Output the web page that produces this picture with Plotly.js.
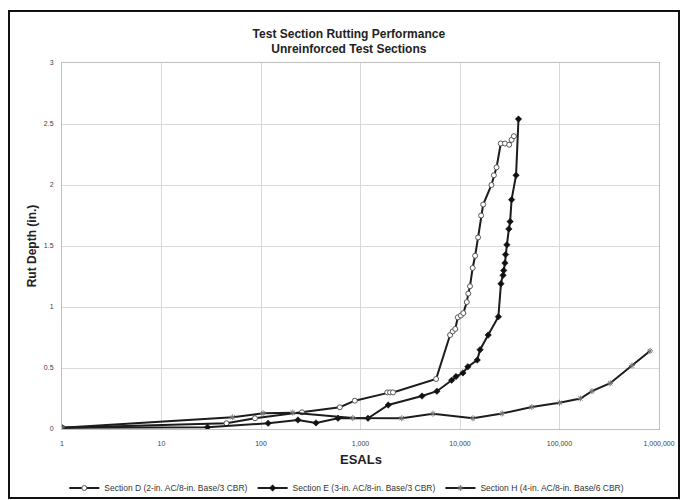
<!DOCTYPE html>
<html>
<head>
<meta charset="utf-8">
<script src="https://cdn.plot.ly/plotly-3.0.1.min.js"></script>
<style>
  html, body { margin: 0; padding: 0; background: #ffffff; }
  #wrap { position: relative; width: 680px; height: 500px; }
  #chart { position: absolute; left: 0; top: 0; width: 680px; height: 500px; }
  #frame { position: absolute; left: 8px; top: 10px; width: 668px; height: 485px;
           border: 2px solid #111; pointer-events: none; }
</style>
</head>
<body>
<div id="wrap">
  <div id="chart"></div>
  <div id="frame"></div>
</div>
<script>
// ---- Data ----
const seriesNames = [
  "Section D (2-in. AC/8-in. Base/3 CBR)",
  "Section E (3-in. AC/8-in. Base/3 CBR)",
  "Section H (4-in. AC/8-in. Base/6 CBR)"
];

const dESAL = [1, 45, 87, 258, 620, 877, 1860, 1980, 2120, 5750, 7950, 8450, 8960, 9510, 10200, 10800,
               11700, 12100, 12600, 13400, 14200, 15200, 16300, 17100, 20700, 21900, 23300, 25700,
               28300, 31200, 33000, 34800];
const dRut  = [0.01, 0.047, 0.088, 0.137, 0.178, 0.232, 0.30, 0.30, 0.30, 0.41, 0.77, 0.80, 0.82, 0.915, 0.93, 0.95,
               1.04, 1.11, 1.17, 1.32, 1.42, 1.57, 1.75, 1.84, 2.0, 2.08, 2.145, 2.34,
               2.34, 2.33, 2.37, 2.40];

const eESAL = [1, 29, 118, 235, 357, 594, 1190, 1900, 4150, 5860, 8250, 9120, 10700, 12000, 14900, 15900,
               19200, 24300, 25800, 27100, 27500, 28300, 28700, 29600, 31000, 31900, 33000, 36600, 38700];
const eRut  = [0.01, 0.015, 0.047, 0.074, 0.05, 0.088, 0.088, 0.197, 0.27, 0.31, 0.40, 0.43, 0.46, 0.51, 0.565, 0.65,
               0.77, 0.92, 1.19, 1.26, 1.30, 1.36, 1.43, 1.51, 1.64, 1.70, 1.88, 2.08, 2.54];

const hESAL = [1, 52, 105, 209, 838, 2600, 5350, 13500, 26500, 52700, 100000, 162000, 212000, 323000, 535000, 812000];
const hRut  = [0.01, 0.096, 0.129, 0.134, 0.09, 0.088, 0.125, 0.088, 0.127, 0.18, 0.215, 0.25, 0.31, 0.375, 0.52, 0.64];

const xTickVals = [1, 10, 100, 1000, 10000, 100000, 1000000];
const xTickText = ["1", "10", "100", "1,000", "10,000", "100,000", "1,000,000"];
const yTickVals = [0, 0.5, 1, 1.5, 2, 2.5, 3];
const yTickText = ["0", "0.5", "1", "1.5", "2", "2.5", "3"];

const titleText = "Test Section Rutting Performance<br>Unreinforced Test Sections";
const xTitle = "ESALs";
const yTitle = "Rut Depth (in.)";

// ---- Chart ----
const FONT = "Liberation Sans, Arial, sans-serif";
const lineCol = "#1c1c1c";

const traces = [
  {
    x: dESAL, y: dRut, name: seriesNames[0], type: "scatter", mode: "lines+markers",
    line: { color: lineCol, width: 2 },
    marker: { symbol: "circle", size: 5, color: "#ffffff", line: { color: "#555555", width: 1 } }
  },
  {
    x: eESAL, y: eRut, name: seriesNames[1], type: "scatter", mode: "lines+markers",
    line: { color: lineCol, width: 2 },
    marker: { symbol: "diamond", size: 5, color: "#111111", line: { color: "#111111", width: 0.5 } }
  },
  {
    x: hESAL, y: hRut, name: seriesNames[2], type: "scatter", mode: "lines+markers",
    line: { color: lineCol, width: 2 },
    marker: { symbol: "asterisk-open", size: 5, color: "#777777", line: { color: "#777777", width: 1 } }
  }
];

const layout = {
  width: 680, height: 500,
  paper_bgcolor: "#ffffff", plot_bgcolor: "#ffffff",
  margin: { l: 62, r: 21, t: 63, b: 71, pad: 0 },
  font: { family: FONT, color: "#333333", size: 7 },
  title: {
    text: titleText, x: 0.513, xref: "container", xanchor: "center",
    y: 0.925, yref: "container", yanchor: "middle",
    font: { family: FONT, size: 12, weight: "bold", color: "#222222" }
  },
  xaxis: {
    type: "log", range: [0, 6], automargin: false,
    tickmode: "array", tickvals: xTickVals, ticktext: xTickText,
    showgrid: true, gridcolor: "#d9d9d9", gridwidth: 1,
    showline: true, linecolor: "#bfbfbf", linewidth: 1, mirror: true,
    zeroline: false, ticks: "", ticklabelstandoff: 8,
    tickfont: { family: FONT, size: 7, color: "#404040" }
  },
  yaxis: {
    range: [0, 3], automargin: false,
    tickmode: "array", tickvals: yTickVals, ticktext: yTickText,
    showgrid: true, gridcolor: "#d9d9d9", gridwidth: 1,
    showline: true, linecolor: "#bfbfbf", linewidth: 1, mirror: true,
    zeroline: false, ticks: "", ticklabelstandoff: 6,
    tickfont: { family: FONT, size: 7, color: "#404040" },
    title: { text: yTitle, standoff: 4, font: { family: FONT, size: 12, weight: "bold", color: "#222222" } }
  },
  annotations: [{
    text: xTitle, xref: "paper", yref: "paper", x: 0.5, y: -0.082,
    xanchor: "center", yanchor: "middle", showarrow: false,
    font: { family: FONT, size: 13, weight: "bold", color: "#222222" }
  }],
  showlegend: true,
  legend: {
    orientation: "h", xref: "container", yref: "container",
    x: 0.51, xanchor: "center", y: 0.024, yanchor: "middle",
    font: { family: FONT, size: 8.5, color: "#333333" },
    itemwidth: 30, tracegroupgap: 0, bgcolor: "rgba(0,0,0,0)"
  }
};

Plotly.newPlot("chart", traces, layout, { displayModeBar: false, staticPlot: true });
</script>
</body>
</html>
